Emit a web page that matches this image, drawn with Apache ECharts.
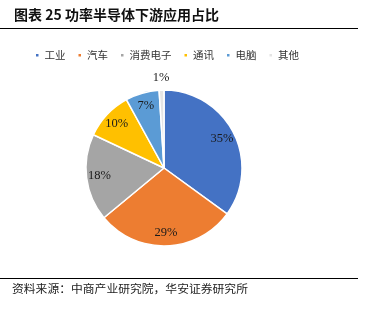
<!DOCTYPE html>
<html>
<head>
<meta charset="utf-8">
<script src="https://cdn.jsdelivr.net/npm/echarts@6/dist/echarts.min.js"></script>
<style>
  html, body { margin: 0; padding: 0; background: #fff; }
  #chart { width: 373px; height: 318px; }
</style>
</head>
<body>
<div id="chart"></div>
<script>
// Downstream application share of power semiconductors (%)
const categories = ['工业', '汽车', '消费电子', '通讯', '电脑', '其他'];
const shares = [35, 29, 18, 10, 7, 1];
const colors = ['#4472C4', '#ED7D31', '#A5A5A5', '#FFC000', '#5B9BD5', '#E4E4E4'];

const titleText = '图表 25 功率半导体下游应用占比';
const sourceText = '资料来源：中商产业研究院，华安证券研究所';

const cjk = '"Noto Sans CJK SC", "Noto Sans", sans-serif';
const serif = '"Liberation Serif", "DejaVu Serif", serif';

const center = [164, 168];
const pieRadius = 78;

const pieData = categories.map((name, i) => ({ name, value: shares[i] }));

const chart = echarts.init(document.getElementById('chart'), null, { renderer: 'canvas' });

chart.setOption({
  animation: false,
  color: colors,
  legend: {
    data: categories,
    left: 29,
    top: 45,
    itemWidth: 4.5,
    itemHeight: 4.5,
    itemGap: 11,
    icon: 'rect',
    textStyle: { fontFamily: cjk, fontSize: 10.5, color: '#333' }
  },
  graphic: [
    {
      type: 'text', left: 14, top: 8,
      style: { text: titleText, font: 'bold 14px ' + cjk, fill: '#111' }
    },
    {
      type: 'line', shape: { x1: 0, y1: 28.5, x2: 358, y2: 28.5 },
      style: { stroke: '#000', lineWidth: 1.2 }
    },
    {
      type: 'line', shape: { x1: 0, y1: 278.5, x2: 358, y2: 278.5 },
      style: { stroke: '#000', lineWidth: 1.2 }
    },
    {
      type: 'text', left: 12, top: 283,
      style: { text: sourceText, font: '11.8px ' + cjk, fill: '#222' }
    }
  ],
  series: [
    {
      // the slices
      type: 'pie',
      center: center,
      radius: [0, pieRadius],
      startAngle: 90,
      clockwise: true,
      silent: true,
      label: { show: false },
      labelLine: { show: false },
      itemStyle: { borderColor: '#fff', borderWidth: 1.5 },
      data: pieData
    },
    {
      // value labels placed inside the larger slices
      type: 'pie',
      center: center,
      radius: [0, 124],
      startAngle: 90,
      clockwise: true,
      silent: true,
      legendHoverLink: false,
      itemStyle: { color: 'rgba(0,0,0,0)' },
      labelLine: { show: false },
      label: {
        show: true,
        position: 'inside',
        formatter: p => p.value >= 5 ? p.value + '%' : '',
        fontFamily: serif,
        fontSize: 12.5,
        color: '#1a1a1a'
      },
      data: pieData.map(d => ({ name: d.name + ' ', value: d.value }))
    },
    {
      // value label for the thin slice, set just outside the rim
      type: 'pie',
      center: center,
      radius: [0, 174],
      startAngle: 90,
      clockwise: true,
      silent: true,
      legendHoverLink: false,
      itemStyle: { color: 'rgba(0,0,0,0)' },
      labelLine: { show: false },
      label: {
        show: true,
        position: 'inside',
        formatter: p => p.value < 5 ? p.value + '%' : '',
        fontFamily: serif,
        fontSize: 12.5,
        color: '#1a1a1a'
      },
      data: pieData.map(d => ({ name: d.name + '  ', value: d.value }))
    }
  ]
});
</script>
</body>
</html>
